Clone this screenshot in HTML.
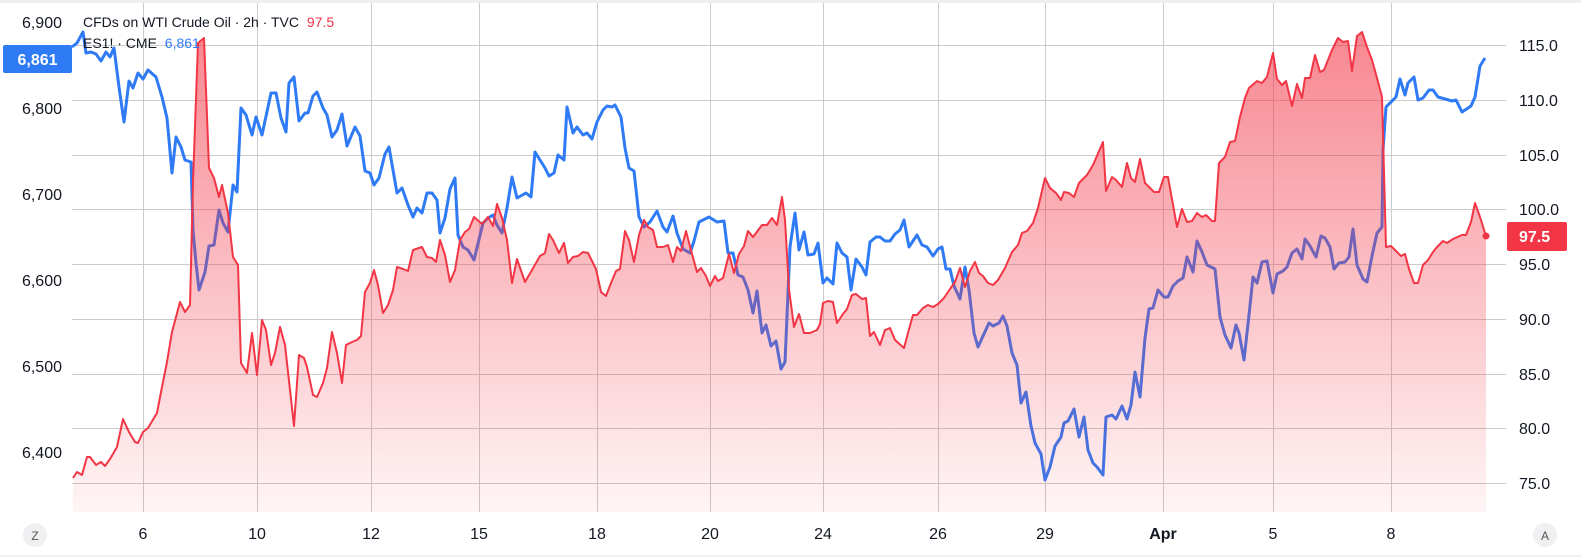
<!DOCTYPE html>
<html><head><meta charset="utf-8"><style>
html,body{margin:0;padding:0;background:#fff;width:1581px;height:557px;overflow:hidden}
svg{display:block;font-family:"Liberation Sans",sans-serif}
</style></head><body>
<svg width="1581" height="557" viewBox="0 0 1581 557">
<defs>
<linearGradient id="rf" gradientUnits="userSpaceOnUse" x1="0" y1="30" x2="0" y2="512">
<stop offset="0" stop-color="#f23645" stop-opacity="0.6"/>
<stop offset="1" stop-color="#f23645" stop-opacity="0.05"/>
</linearGradient>
</defs>
<rect x="0" y="0" width="1581" height="3" fill="#f0f0f2"/>
<rect x="0" y="555" width="1581" height="2" fill="#f0f0f2"/>
<g stroke="#cbcbcb" stroke-width="1">
<line x1="72" x2="1506" y1="45.5" y2="45.5"/><line x1="72" x2="1506" y1="100.5" y2="100.5"/>
<line x1="72" x2="1506" y1="155.5" y2="155.5"/><line x1="72" x2="1506" y1="209.5" y2="209.5"/>
<line x1="72" x2="1506" y1="264.5" y2="264.5"/><line x1="72" x2="1506" y1="319.5" y2="319.5"/>
<line x1="72" x2="1506" y1="374.5" y2="374.5"/><line x1="72" x2="1506" y1="428.5" y2="428.5"/>
<line x1="72" x2="1506" y1="483.5" y2="483.5"/>
<line x1="143.5" x2="143.5" y1="3" y2="512"/><line x1="257.5" x2="257.5" y1="3" y2="512"/>
<line x1="371.5" x2="371.5" y1="3" y2="512"/><line x1="479.5" x2="479.5" y1="3" y2="512"/>
<line x1="597.5" x2="597.5" y1="3" y2="512"/><line x1="710.5" x2="710.5" y1="3" y2="512"/>
<line x1="823.5" x2="823.5" y1="3" y2="512"/><line x1="938.5" x2="938.5" y1="3" y2="512"/>
<line x1="1045.5" x2="1045.5" y1="3" y2="512"/><line x1="1163.5" x2="1163.5" y1="3" y2="512"/>
<line x1="1273.5" x2="1273.5" y1="3" y2="512"/><line x1="1391.5" x2="1391.5" y1="3" y2="512"/>
</g>
<!-- blue -->
<polyline fill="none" stroke="#2f7af5" stroke-width="3" stroke-linejoin="round" points="72,47 77,43 83,32 86,53 91,52 96,54 101,61 106,52 110,57 114,48 119,87 124,122 129,81 133,88 138,73 143,79 148,70 156,77 162,97 167,118 172,173 176,137 181,147 185,160 191,162 193,230 196,263 199,290 205,272 209,246 214,245 219,210 223,223 228,232 233,185 237,192 241,108 246,115 252,135 256,117 262,135 271,93 276,93 281,118 286,132 289,83 294,77 299,121 305,113 308,113 313,96 317,92 323,108 327,115 332,137 337,130 342,114 347,146 355,127 360,136 365,171 370,173 374,185 379,178 385,154 389,147 397,193 402,188 408,205 413,217 417,208 422,213 427,193 432,193 437,200 440,233 445,218 450,189 455,178 458,235 463,247 468,250 474,260 483,223 488,218 493,215 497,225 502,233 507,208 512,177 517,198 526,193 531,197 535,152 540,160 545,168 549,176 554,173 558,155 564,160 567,107 573,133 577,127 583,135 587,133 592,139 597,122 603,110 607,106 612,107 615,105 621,117 625,148 629,168 634,171 639,217 644,227 650,222 657,211 663,227 667,232 673,216 677,233 683,249 690,253 694,241 699,222 709,217 717,222 724,221 728,253 733,253 738,275 743,277 748,290 753,313 757,291 762,333 766,325 771,346 776,341 781,369 785,362 790,247 795,213 799,250 804,232 808,255 814,254 818,243 823,283 827,278 833,284 837,243 842,253 847,257 851,290 856,259 862,267 866,275 870,242 876,237 880,237 885,241 890,241 895,234 900,230 904,220 909,247 917,235 922,245 927,247 933,256 938,249 942,247 946,269 950,269 954,286 960,299 965,267 969,290 974,333 978,347 983,336 989,323 993,326 999,323 1003,316 1007,326 1012,353 1017,365 1021,403 1026,392 1031,426 1035,443 1041,454 1045,480 1050,467 1055,446 1061,437 1064,423 1068,421 1074,409 1079,437 1084,417 1088,450 1093,463 1097,467 1103,475 1106,417 1112,415 1116,419 1122,406 1127,419 1131,405 1135,372 1140,397 1145,338 1149,309 1153,308 1158,290 1164,297 1168,297 1173,286 1178,281 1183,278 1187,257 1193,272 1197,241 1202,252 1207,265 1215,269 1220,317 1225,335 1231,348 1236,325 1239,333 1244,360 1249,315 1253,277 1257,283 1262,262 1267,261 1273,293 1277,274 1283,271 1287,267 1292,253 1297,249 1302,259 1305,239 1310,246 1316,257 1321,236 1325,238 1330,247 1334,269 1339,263 1345,262 1349,257 1353,229 1357,265 1363,279 1367,282 1372,256 1377,233 1382,227 1383,150 1386,107 1391,102 1396,97 1400,79 1405,95 1408,83 1414,77 1418,100 1423,98 1429,90 1433,90 1438,97 1445,99 1452,101 1456,100 1462,112 1471,106 1475,97 1480,66 1485,58"/>
<!-- red -->
<g id="red">
<polygon fill="url(#rf)" points="73,512 73,478 77,472 82,475 87,457 90,457 96,465 101,462 105,466 110,459 117,447 123,419 129,432 135,442 138,443 143,432 148,428 157,413 162,387 167,362 172,332 180,302 185,312 190,305 193,182 198,43 204,38 209,168 214,178 219,197 222,185 228,213 233,257 238,265 241,363 247,373 252,333 257,375 262,320 266,330 271,365 275,353 280,327 285,345 294,426 299,355 304,358 307,367 313,395 317,397 323,383 327,368 332,332 337,353 342,383 346,345 352,342 357,340 361,336 365,292 370,283 374,270 378,285 383,313 388,305 393,290 397,267 403,269 408,271 413,250 422,247 427,257 432,258 436,262 440,240 445,255 450,282 455,270 460,240 465,232 469,229 474,217 482,224 488,217 493,226 497,204 502,218 507,240 512,283 517,259 525,282 532,270 540,256 545,253 549,234 553,240 559,253 564,243 568,263 573,257 578,256 583,252 588,253 596,269 601,292 606,296 611,283 616,271 620,269 625,231 629,240 634,262 639,235 644,220 648,227 653,230 657,247 663,247 668,245 673,262 677,247 681,251 686,231 692,254 697,272 701,268 706,276 710,286 715,276 718,281 723,278 729,254 734,273 739,254 744,246 748,231 753,237 762,225 767,225 772,218 777,225 782,197 785,220 789,289 794,327 799,314 804,333 810,333 817,330 820,324 823,303 828,301 833,302 837,323 843,314 847,309 852,295 856,294 862,299 866,298 870,336 874,332 880,345 885,330 890,328 895,340 904,348 908,333 913,315 917,315 923,308 928,305 933,307 938,304 944,298 950,289 955,282 960,268 965,287 970,271 975,262 979,273 983,276 988,283 993,285 998,280 1005,268 1012,252 1018,245 1022,233 1027,231 1033,223 1038,208 1045,178 1050,188 1056,193 1061,200 1064,192 1069,193 1074,197 1079,183 1087,175 1093,165 1103,142 1106,191 1112,177 1116,180 1122,187 1127,163 1131,178 1135,182 1140,159 1145,183 1149,187 1154,192 1159,192 1164,177 1168,177 1177,227 1182,209 1187,222 1192,221 1197,213 1202,217 1206,215 1212,221 1215,221 1219,163 1225,157 1230,142 1235,141 1240,117 1245,98 1249,88 1257,81 1262,83 1267,77 1273,53 1277,79 1282,85 1286,81 1292,106 1297,84 1302,98 1305,78 1310,78 1315,55 1320,72 1324,70 1332,50 1338,38 1343,42 1348,41 1352,71 1357,36 1362,32 1367,47 1372,60 1377,78 1382,97 1386,247 1391,246 1396,251 1401,256 1405,254 1409,269 1414,283 1418,283 1423,265 1428,260 1433,252 1437,247 1443,241 1447,243 1453,239 1462,235 1466,235 1471,222 1475,203 1480,217 1486,236 1486,512"/>
<polyline fill="none" stroke="#f23645" stroke-width="2" stroke-linejoin="round" points="73,478 77,472 82,475 87,457 90,457 96,465 101,462 105,466 110,459 117,447 123,419 129,432 135,442 138,443 143,432 148,428 157,413 162,387 167,362 172,332 180,302 185,312 190,305 193,182 198,43 204,38 209,168 214,178 219,197 222,185 228,213 233,257 238,265 241,363 247,373 252,333 257,375 262,320 266,330 271,365 275,353 280,327 285,345 294,426 299,355 304,358 307,367 313,395 317,397 323,383 327,368 332,332 337,353 342,383 346,345 352,342 357,340 361,336 365,292 370,283 374,270 378,285 383,313 388,305 393,290 397,267 403,269 408,271 413,250 422,247 427,257 432,258 436,262 440,240 445,255 450,282 455,270 460,240 465,232 469,229 474,217 482,224 488,217 493,226 497,204 502,218 507,240 512,283 517,259 525,282 532,270 540,256 545,253 549,234 553,240 559,253 564,243 568,263 573,257 578,256 583,252 588,253 596,269 601,292 606,296 611,283 616,271 620,269 625,231 629,240 634,262 639,235 644,220 648,227 653,230 657,247 663,247 668,245 673,262 677,247 681,251 686,231 692,254 697,272 701,268 706,276 710,286 715,276 718,281 723,278 729,254 734,273 739,254 744,246 748,231 753,237 762,225 767,225 772,218 777,225 782,197 785,220 789,289 794,327 799,314 804,333 810,333 817,330 820,324 823,303 828,301 833,302 837,323 843,314 847,309 852,295 856,294 862,299 866,298 870,336 874,332 880,345 885,330 890,328 895,340 904,348 908,333 913,315 917,315 923,308 928,305 933,307 938,304 944,298 950,289 955,282 960,268 965,287 970,271 975,262 979,273 983,276 988,283 993,285 998,280 1005,268 1012,252 1018,245 1022,233 1027,231 1033,223 1038,208 1045,178 1050,188 1056,193 1061,200 1064,192 1069,193 1074,197 1079,183 1087,175 1093,165 1103,142 1106,191 1112,177 1116,180 1122,187 1127,163 1131,178 1135,182 1140,159 1145,183 1149,187 1154,192 1159,192 1164,177 1168,177 1177,227 1182,209 1187,222 1192,221 1197,213 1202,217 1206,215 1212,221 1215,221 1219,163 1225,157 1230,142 1235,141 1240,117 1245,98 1249,88 1257,81 1262,83 1267,77 1273,53 1277,79 1282,85 1286,81 1292,106 1297,84 1302,98 1305,78 1310,78 1315,55 1320,72 1324,70 1332,50 1338,38 1343,42 1348,41 1352,71 1357,36 1362,32 1367,47 1372,60 1377,78 1382,97 1386,247 1391,246 1396,251 1401,256 1405,254 1409,269 1414,283 1418,283 1423,265 1428,260 1433,252 1437,247 1443,241 1447,243 1453,239 1462,235 1466,235 1471,222 1475,203 1480,217 1486,236"/>
<circle cx="1486" cy="236" r="3.5" fill="#f23645"/>
</g>
<!-- legend -->
<text x="83" y="27" font-size="14" fill="#131722">CFDs on WTI Crude Oil · 2h · TVC <tspan fill="#f23645" dx="4">97.5</tspan></text>
<text x="83" y="48" font-size="14" fill="#131722">ES1! · CME <tspan fill="#2f7af5" dx="4">6,861</tspan></text>
<!-- left axis -->
<g font-size="16" fill="#131722" text-anchor="end">
<text x="62" y="28">6,900</text>
<text x="62" y="114">6,800</text>
<text x="62" y="200">6,700</text>
<text x="62" y="286">6,600</text>
<text x="62" y="372">6,500</text>
<text x="62" y="458">6,400</text>
</g>
<rect x="3" y="45" width="69" height="28" rx="2" fill="#2f7af5"/>
<text x="37.5" y="65" font-size="16" font-weight="bold" fill="#fff" text-anchor="middle">6,861</text>
<!-- right axis -->
<g font-size="16" fill="#131722">
<text x="1519" y="51">115.0</text>
<text x="1519" y="106">110.0</text>
<text x="1519" y="161">105.0</text>
<text x="1519" y="215">100.0</text>
<text x="1519" y="270">95.0</text>
<text x="1519" y="325">90.0</text>
<text x="1519" y="380">85.0</text>
<text x="1519" y="434">80.0</text>
<text x="1519" y="489">75.0</text>
</g>
<rect x="1507" y="222" width="60" height="29" rx="2" fill="#f23645"/>
<text x="1519" y="242" font-size="16" font-weight="bold" fill="#fff">97.5</text>
<!-- x axis -->
<g font-size="16" fill="#131722" text-anchor="middle">
<text x="143" y="539">6</text>
<text x="257" y="539">10</text>
<text x="371" y="539">12</text>
<text x="479" y="539">15</text>
<text x="597" y="539">18</text>
<text x="710" y="539">20</text>
<text x="823" y="539">24</text>
<text x="938" y="539">26</text>
<text x="1045" y="539">29</text>
<text x="1163" y="539" font-weight="bold">Apr</text>
<text x="1273" y="539">5</text>
<text x="1391" y="539">8</text>
</g>
<circle cx="35" cy="535" r="12" fill="#f0f0f2"/>
<text x="35" y="540" font-size="12" fill="#555" text-anchor="middle">Z</text>
<circle cx="1545" cy="535" r="12" fill="#f0f0f2"/>
<text x="1545" y="540" font-size="12" fill="#555" text-anchor="middle">A</text>
</svg>
</body></html>
